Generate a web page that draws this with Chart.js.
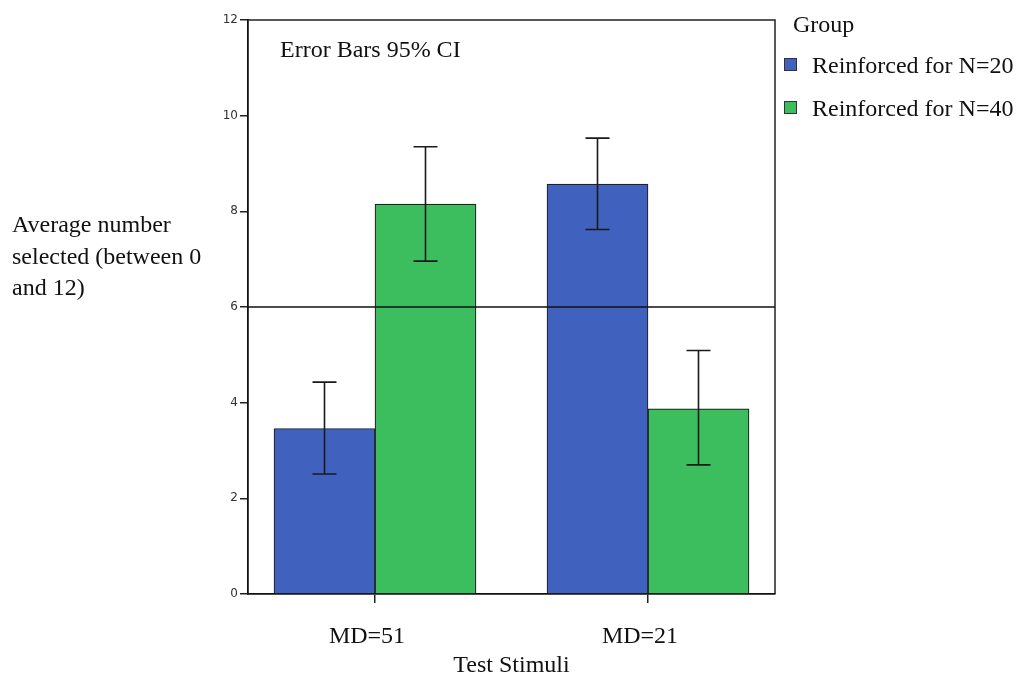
<!DOCTYPE html>
<html>
<head>
<meta charset="utf-8">
<title>Average number selected by group</title>
<script src="https://cdn.jsdelivr.net/npm/chart.js@4.4.1/dist/chart.umd.min.js"></script>
<style>
  html, body { margin: 0; padding: 0; background: #fff; }
  canvas { display: block; }
</style>
</head>
<body>
<canvas id="chart" width="1016" height="675"></canvas>
<script>
// Test stimuli and group means with 95% CI bounds

const stimuli = ["MD=51", "MD=21"];
const groups = ["Reinforced for N=20", "Reinforced for N=40"];

const meanN20 = [3.46, 8.57];
const lowN20 = [2.51, 7.62];
const highN20 = [4.43, 9.53];

const meanN40 = [8.15, 3.87];
const lowN40 = [6.96, 2.70];
const highN40 = [9.35, 5.09];

const yTicks = [0, 2, 4, 6, 8, 10, 12];
const referenceLevel = 6;

const serif = "'Liberation Serif', 'Times New Roman', serif";
const textSize = 24;
const blue = "rgb(64, 98, 190)";
const green = "rgb(60, 190, 95)";

function toPoints(values) {
    return values.map((v, i) => ({ x: i + 1, y: v }));
}

// frame, reference line, error bars, legend and side text
const decorations = {
    id: "decorations",
    afterDatasetsDraw(chart) {
        const ctx = chart.ctx;
        const area = chart.chartArea;
        const y = chart.scales.y;

        ctx.save();

        // top and right frame lines
        ctx.strokeStyle = "#222";
        ctx.lineWidth = 1.5;
        ctx.beginPath();
        ctx.moveTo(area.left, area.top);
        ctx.lineTo(area.right, area.top);
        ctx.lineTo(area.right, area.bottom);
        ctx.stroke();

        // horizontal line at 6
        const ry = y.getPixelForValue(referenceLevel);
        ctx.strokeStyle = "#111";
        ctx.lineWidth = 1.5;
        ctx.beginPath();
        ctx.moveTo(area.left, ry);
        ctx.lineTo(area.right, ry);
        ctx.stroke();

        // 95% CI whiskers
        const bounds = [[lowN20, highN20], [lowN40, highN40]];
        ctx.strokeStyle = "#1a1a1a";
        ctx.lineWidth = 1.6;
        chart.data.datasets.forEach((ds, di) => {
            const meta = chart.getDatasetMeta(di);
            meta.data.forEach((bar, i) => {
                const x = bar.x;
                const top = y.getPixelForValue(bounds[di][1][i]);
                const bottom = y.getPixelForValue(bounds[di][0][i]);
                ctx.beginPath();
                ctx.moveTo(x, top);
                ctx.lineTo(x, bottom);
                ctx.moveTo(x - 12, top);
                ctx.lineTo(x + 12, top);
                ctx.moveTo(x - 12, bottom);
                ctx.lineTo(x + 12, bottom);
                ctx.stroke();
            });
        });

        ctx.fillStyle = "#111";
        ctx.font = textSize + "px " + serif;
        ctx.textAlign = "left";
        ctx.textBaseline = "alphabetic";

        ctx.fillText("Error Bars 95% CI", 280, 57);

        // y axis caption, written horizontally
        ctx.fillText("Average number", 12, 232);
        ctx.fillText("selected (between 0", 12, 264);
        ctx.fillText("and 12)", 12, 295);

        // legend
        ctx.fillText("Group", 793, 32);
        const legendY = [73, 116];
        chart.data.datasets.forEach((ds, di) => {
            const ty = legendY[di];
            ctx.fillStyle = ds.backgroundColor;
            ctx.fillRect(784.5, ty - 14.5, 12, 12);
            ctx.strokeStyle = "#333";
            ctx.lineWidth = 1;
            ctx.strokeRect(784.5, ty - 14.5, 12, 12);
            ctx.fillStyle = "#111";
            ctx.fillText(ds.label, 812, ty);
        });

        ctx.restore();
    }
};

new Chart(document.getElementById("chart"), {
    type: "bar",
    data: {
        datasets: [
            {
                label: groups[0],
                data: toPoints(meanN20),
                backgroundColor: blue,
                borderColor: "#222",
                borderWidth: 1.2
            },
            {
                label: groups[1],
                data: toPoints(meanN40),
                backgroundColor: green,
                borderColor: "#222",
                borderWidth: 1.2
            }
        ]
    },
    options: {
        responsive: false,
        animation: false,
        devicePixelRatio: 1,
        barThickness: 101,
        layout: { padding: { top: 20, right: 241, left: 0, bottom: 0 } },
        plugins: {
            legend: { display: false },
            tooltip: { enabled: false }
        },
        scales: {
            x: {
                type: "linear",
                offset: false,
                min: 0.5348,
                max: 2.4652,
                afterBuildTicks(scale) {
                    scale.ticks = stimuli.map((s, i) => ({ value: i + 1 }));
                },
                afterFit(scale) {
                    scale.height = 81;
                },
                grid: {
                    offset: false,
                    drawOnChartArea: false,
                    tickLength: 9,
                    color: "#222",
                    lineWidth: 1.5
                },
                border: { display: true, color: "#111", width: 1.8 },
                ticks: {
                    padding: 19,
                    labelOffset: -8,
                    maxRotation: 0,
                    color: "#111",
                    font: { family: serif, size: textSize },
                    callback: (v) => stimuli[v - 1]
                },
                title: {
                    display: true,
                    text: "Test Stimuli",
                    color: "#111",
                    padding: { top: 0, bottom: -3 },
                    font: { family: serif, size: textSize, lineHeight: 1 }
                }
            },
            y: {
                min: 0,
                max: 12,
                afterBuildTicks(scale) {
                    scale.ticks = yTicks.map(v => ({ value: v }));
                },
                afterFit(scale) {
                    scale.width = 248;
                },
                grid: {
                    drawOnChartArea: false,
                    tickLength: 8,
                    color: "#222",
                    lineWidth: 1.5
                },
                border: { display: true, color: "#111", width: 1.8 },
                ticks: {
                    padding: 2,
                    color: "#333",
                    font: { family: "'DejaVu Sans', sans-serif", size: 12 }
                }
            }
        }
    },
    plugins: [decorations]
});
</script>
</body>
</html>
